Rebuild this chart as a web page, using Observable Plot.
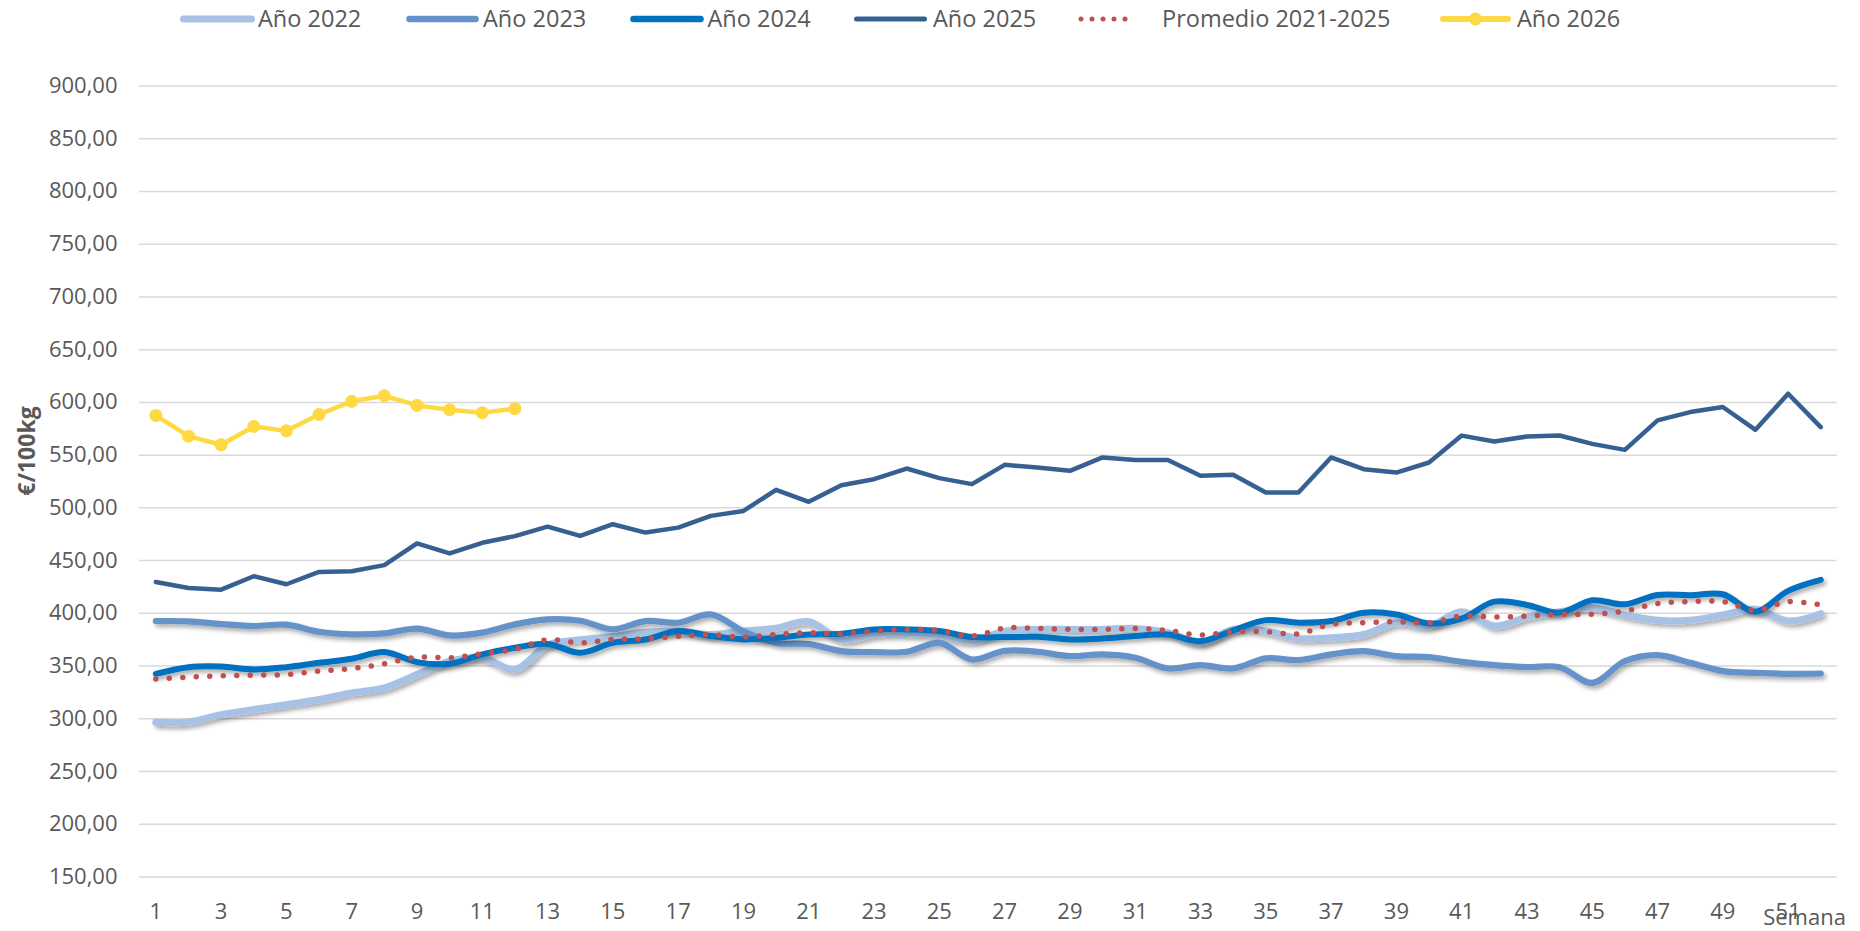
<!DOCTYPE html>
<html><head><meta charset="utf-8">
<script src="https://cdn.jsdelivr.net/npm/d3@7"></script>
<script src="https://cdn.jsdelivr.net/npm/@observablehq/plot@0.6"></script>
<style>
body{margin:0;background:#fff;font-family:"Open Sans",sans-serif;}
svg{display:block}
</style></head><body>
<div id="chart"></div>
<script>
// ---- data ----
const weeks = d3.range(1, 53);
const xTicks = d3.range(1, 52, 2);
const yTicks = d3.range(150, 901, 50);
const seriesNames = ["Año 2022", "Año 2023", "Año 2024", "Año 2025", "Promedio 2021-2025", "Año 2026"];

const y2022 = [296.7,297,304,308.8,313.5,318.3,324.6,329.4,342,354.7,357.9,346.8,370,375,378,382,383,380,383,386,392,375,380,381,379,374,383,384.8,384.8,384.8,385.7,381.6,372.1,384.8,383.2,376.2,376.9,380,391.1,387.9,401.5,388,396.5,401.6,405.4,398.4,393.4,393.4,398.4,403.8,392.7,399.7];
const y2023 = [392.7,392.4,389.9,388,389.3,382.6,380.1,381,385.5,379.1,381.7,389.6,394.3,393,384.8,392.7,391.1,399,383,372,371,364.2,363.3,363.6,372,356.3,364.5,363.6,359.5,361.1,357.9,347.8,350.9,347.8,357.3,355.7,361.1,364.2,359.5,358.5,354,350.9,349,349,334.1,354.7,360.4,353.1,345.2,343.6,342.7,343];
const y2024 = [342.7,349,349.6,346.8,349,353.1,356.9,363.3,353.8,352.2,361.1,367.4,371,362.6,372,375.3,383.2,378.5,375.3,376.9,380,380.7,384.8,384.8,383.2,377.5,377.5,377.8,375.3,376.2,378.5,380,373.7,383.8,393.6,391.1,392.7,400.6,399,390.5,395,411.1,408,400.7,412.4,408.6,417.5,417.2,418.1,401.6,421.3,431.7];
const y2025 = [429.8,424,422.5,435.2,427.6,439.3,440,445.7,466.3,456.8,466.9,473.2,482.2,473.4,484.5,476.6,481.3,492.4,497.1,517.1,505.7,521.5,527.2,537.3,528.2,522.5,540.8,538.3,535.1,547.8,545.3,545.3,530.4,531.3,514.6,514.6,547.8,536.7,533.5,543,568.5,562.9,567.7,568.6,560.7,555,582.9,590.8,595.6,574,608.2,576.5];
const yProm = [337.9,339.5,340.8,341.4,342,345.2,347.7,352.2,358.5,357.9,361.7,366,375,372.1,375.3,375.9,378.4,380,377.5,380,381.6,380.7,383.2,384.8,383.8,378.5,386,385.7,384.8,384.8,385.7,383.8,379.4,382.6,382.6,380.7,389.5,391.1,392.1,391.1,397.4,396.5,397.5,399.1,399.1,402.3,409.2,411.1,411.1,402.9,411.1,408];
const y2026 = [587.6,568,559.8,577.2,573,588.6,601,606.3,597.1,593,590.2,594];

// ---- styles ----
const colors = {"Año 2022":"#A7C2E4","Año 2023":"#6592C9","Año 2024":"#0070C0","Año 2025":"#376092","Promedio 2021-2025":"#C0504D","Año 2026":"#FFD944"};
const widths = {"Año 2022":7,"Año 2023":6.2,"Año 2024":6,"Año 2025":4.5,"Promedio 2021-2025":5.5,"Año 2026":4.5};

const valuesBy = {"Año 2022":y2022,"Año 2023":y2023,"Año 2024":y2024,"Año 2025":y2025,"Promedio 2021-2025":yProm,"Año 2026":y2026};
const rowsOf = name => valuesBy[name].map((v, i) => ({week: weeks[i], value: v, series: name}));

const W = 1860, LEGEND_H = 38, H = 931 - LEGEND_H;
const textColor = "#595959";
const fmt = d => d.toFixed(2).replace(".", ",");

// ---- legend ----
const leg = d3.create("svg").attr("width", W).attr("height", LEGEND_H)
  .attr("font-family", "Open Sans").attr("font-size", 23.5).attr("fill", textColor);
const legItems = [
  {name:"Año 2022", x1:183.5, x2:251.5, tx:258, w:7},
  {name:"Año 2023", x1:409.5, x2:475.5, tx:483, w:6.5},
  {name:"Año 2024", x1:633.5, x2:700.5, tx:707.5, w:6.5},
  {name:"Año 2025", x1:856.5, x2:924.5, tx:933, w:5},
  {name:"Promedio 2021-2025", x1:1081, x2:1136, tx:1162, w:5, dots:true},
  {name:"Año 2026", x1:1443, x2:1508, tx:1517, w:6, marker:true}
];
for (const it of legItems) {
  leg.append("line").attr("x1", it.x1).attr("x2", it.x2).attr("y1", 19).attr("y2", 19)
    .attr("stroke", colors[it.name]).attr("stroke-width", it.w).attr("stroke-linecap", "round")
    .attr("stroke-dasharray", it.dots ? "0 11" : null);
  if (it.marker) leg.append("circle").attr("cx", (it.x1 + it.x2) / 2).attr("cy", 19).attr("r", 6.5).attr("fill", colors[it.name]);
  leg.append("text").attr("x", it.tx).attr("y", 27.4).text(it.name);
}
document.getElementById("chart").append(leg.node());

// ---- chart ----
const smoothLine = (name, shadow) => Plot.line(rowsOf(name), {
  x: "week", y: "value", stroke: colors[name], strokeWidth: widths[name],
  curve: "catmull-rom", strokeLinecap: "round", strokeLinejoin: "round",
  ariaDescription: shadow ? "shadow" : "plain"
});

const plot = Plot.plot({
  width: W, height: H,
  marginLeft: 139, marginRight: 23.4, marginTop: 47.4, marginBottom: 54.4,
  style: {fontFamily: "Open Sans", fontSize: "22px", color: textColor, background: "#fff"},
  x: {domain: [0.5, 52.5]},
  y: {domain: [150, 900]},
  marks: [
    Plot.gridY(yTicks, {stroke: "#D9D9D9", strokeOpacity: 1, strokeWidth: 1.5}),
    Plot.axisY(yTicks, {tickSize: 0, tickPadding: 22, tickFormat: fmt, fontSize: 22, label: null}),
    Plot.axisX(xTicks, {tickSize: 0, tickPadding: 26.5, fontSize: 22, label: null}),
    smoothLine("Año 2022", true),
    smoothLine("Año 2023", true),
    smoothLine("Año 2024", true),
    Plot.line(rowsOf("Año 2025"), {x: "week", y: "value", stroke: colors["Año 2025"], strokeWidth: widths["Año 2025"], strokeLinecap: "round", strokeLinejoin: "round"}),
    Plot.line(rowsOf("Promedio 2021-2025"), {x: "week", y: "value", stroke: colors["Promedio 2021-2025"], strokeWidth: widths["Promedio 2021-2025"], curve: "catmull-rom", strokeLinecap: "round", strokeDasharray: "0 13.5"}),
    Plot.line(rowsOf("Año 2026"), {x: "week", y: "value", stroke: colors["Año 2026"], strokeWidth: widths["Año 2026"], strokeLinejoin: "round"}),
    Plot.dot(rowsOf("Año 2026"), {x: "week", y: "value", r: 6.5, fill: colors["Año 2026"], stroke: "none"}),
    Plot.text(["Semana"], {frameAnchor: "bottom-right", lineAnchor: "middle", dx: -32.6, dy: 41, textAnchor: "middle", fontSize: 22, fill: textColor})
  ]
});

// drop shadow filter for 2022-2024 lines
const svg = d3.select(plot);
svg.insert("defs", ":first-child").html(
  '<filter id="shadow" x="-5%" y="-50%" width="110%" height="200%"><feDropShadow dx="2.5" dy="3" stdDeviation="2" flood-color="#000" flood-opacity="0.33"/></filter>');
svg.selectAll('g[aria-description="shadow"]').attr("filter", "url(#shadow)");

// y axis title
svg.append("text").attr("transform", "translate(35,413) rotate(-90)")
  .attr("text-anchor", "middle").attr("font-size", 23).attr("font-weight", "bold")
  .attr("fill", textColor).text("€/100kg");

document.getElementById("chart").append(plot);
</script>
</body></html>
